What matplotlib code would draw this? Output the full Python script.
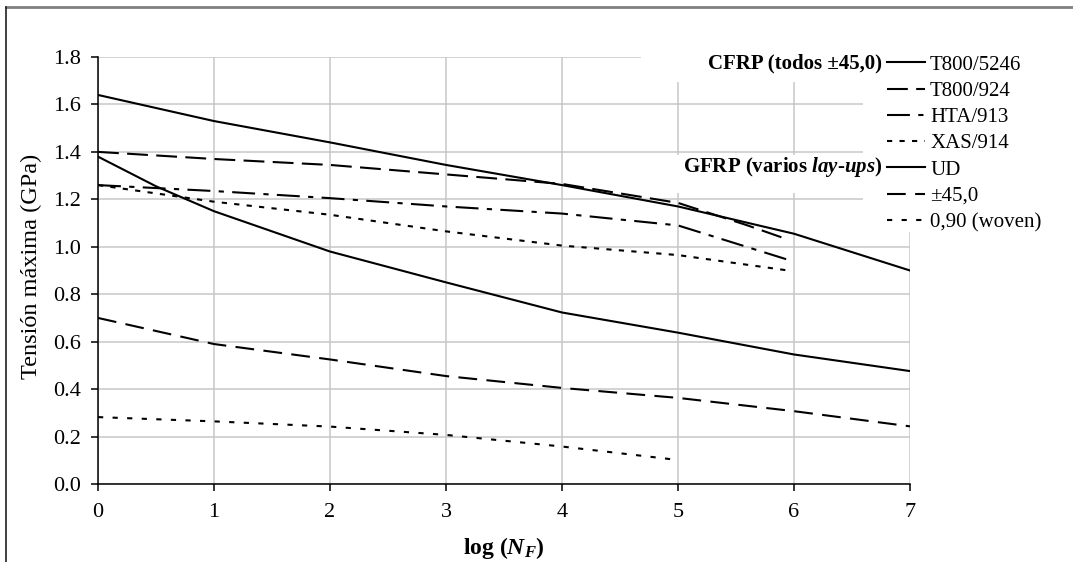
import matplotlib
matplotlib.use("Agg")
import matplotlib.pyplot as plt
from matplotlib.lines import Line2D
from matplotlib.patches import Rectangle

plt.rcParams['font.family'] = ['Liberation Serif', 'DejaVu Serif']
plt.rcParams['mathtext.fontset'] = 'custom'
plt.rcParams['mathtext.rm'] = 'Liberation Serif'
plt.rcParams['mathtext.it'] = 'Liberation Serif:italic'
plt.rcParams['mathtext.bf'] = 'Liberation Serif:bold'
plt.rcParams['mathtext.bfit'] = 'Liberation Serif:italic:bold'

# datos (log NF -> tension maxima en GPa)
x_t800_5246 = [0, 1, 2, 3, 4, 5, 6, 7]
y_t800_5246 = [1.64, 1.53, 1.44, 1.345, 1.26, 1.17, 1.055, 0.90]

x_t800_924 = [0, 1, 2, 3, 4, 5, 5.6, 5.95]
y_t800_924 = [1.40, 1.37, 1.345, 1.305, 1.265, 1.185, 1.09, 1.03]

x_hta_913 = [0, 1, 2, 3, 4, 5, 5.95]
y_hta_913 = [1.26, 1.235, 1.205, 1.17, 1.14, 1.09, 0.945]

x_xas_914 = [0, 1, 2, 3, 4, 5, 5.95]
y_xas_914 = [1.26, 1.19, 1.135, 1.065, 1.005, 0.965, 0.90]

x_ud = [0, 0.5, 1, 2, 3, 4, 5, 6, 7]
y_ud = [1.38, 1.255, 1.15, 0.98, 0.85, 0.723, 0.638, 0.546, 0.476]

x_pm45 = [0, 1, 2, 3, 4, 5, 6, 7]
y_pm45 = [0.70, 0.59, 0.525, 0.455, 0.405, 0.363, 0.307, 0.243]

x_woven = [0, 1, 2, 3, 4, 4.95]
y_woven = [0.282, 0.264, 0.242, 0.207, 0.158, 0.104]

labels = ['T800/5246', 'T800/924', 'HTA/913', 'XAS/914', 'UD', '±45,0', '0,90 (woven)']

W, H = 1073, 562
fig = plt.figure(figsize=(W / 100, H / 100), dpi=100)
ax = fig.add_axes([98 / W, 1 - 484 / H, (910 - 98) / W, (484 - 57) / H])

lw = 1.5
l1, = ax.plot(x_t800_5246, y_t800_5246, color='black', lw=lw)
l2, = ax.plot(x_t800_924, y_t800_924, color='black', lw=lw, dashes=(10, 4))
l3, = ax.plot(x_hta_913, y_hta_913, color='black', lw=lw, dashes=(11, 4, 2.5, 4))
l4, = ax.plot(x_xas_914, y_xas_914, color='black', lw=lw, dashes=(2.5, 3.5))
l5, = ax.plot(x_ud, y_ud, color='black', lw=lw)
l6, = ax.plot(x_pm45, y_pm45, color='black', lw=lw, dashes=(9, 4.5))
l7, = ax.plot(x_woven, y_woven, color='black', lw=lw, dashes=(2.5, 4.5))

ax.set_xlim(0, 7)
ax.set_ylim(0, 1.8)
ax.set_xticks(range(8))
ax.set_yticks([i * 0.2 for i in range(10)])
ax.set_yticklabels([f"{i * 0.2:.1f}" for i in range(10)])
ax.grid(True, color='#c8c8c8', lw=1.1)
ax.set_axisbelow(True)
for s in ['top', 'right']:
    ax.spines[s].set_visible(False)
for s in ['left', 'bottom']:
    ax.spines[s].set_linewidth(1.1)
ax.tick_params(axis='both', direction='out', length=5, width=1.1, labelsize=16, colors='black')
ax.tick_params(axis='y', pad=7)
ax.tick_params(axis='x', pad=9)

ax.set_ylabel('Tensión máxima (GPa)', fontsize=17.5, va='center')
ax.yaxis.set_label_coords(31 / W, 1 - 266 / H, transform=fig.transFigure)
ax.set_xlabel(r'log ($\mathbfit{N}_{\mathbfit{F}}$)', fontsize=17, fontweight='bold', va='center')
ax.xaxis.set_label_coords(504 / W, 1 - 548 / H, transform=fig.transFigure)

# zonas blancas de la leyenda
for (x0, y0, x1, y1) in [(863, 40, 1060, 232), (641, 40, 882, 82), (645, 155, 882, 193)]:
    ax.add_patch(Rectangle((x0 / W, 1 - y1 / H), (x1 - x0) / W, (y1 - y0) / H,
                           transform=fig.transFigure, facecolor='white',
                           edgecolor='none', zorder=1, clip_on=False))

leg = ax.legend([l1, l2, l3, l4, l5, l6, l7], labels, loc='upper left',
                bbox_to_anchor=(887 / W, 1 - 55 / H), bbox_transform=fig.transFigure,
                frameon=False, fontsize=15, handlelength=1.83, handletextpad=0.24,
                labelspacing=0.32, borderpad=0, borderaxespad=0)
leg.set_zorder(6)

fig.text(882 / W, 1 - 63 / H, 'CFRP (todos ±45,0)', ha='right', va='center',
         fontsize=15, fontweight='bold', zorder=6)
fig.text(882 / W, 1 - 167 / H, r'GFRP (varios $\mathbfit{lay}$-$\mathbfit{ups}$)',
         ha='right', va='center', fontsize=15, fontweight='bold', zorder=6)

# marco exterior
fig.add_artist(Line2D([6 / W, 1], [1 - 7 / H, 1 - 7 / H], color='#808080', lw=2))
fig.add_artist(Line2D([6 / W, 6 / W], [0, 1 - 7 / H], color='#202020', lw=1.2))

fig.savefig('out.png', dpi=100)
